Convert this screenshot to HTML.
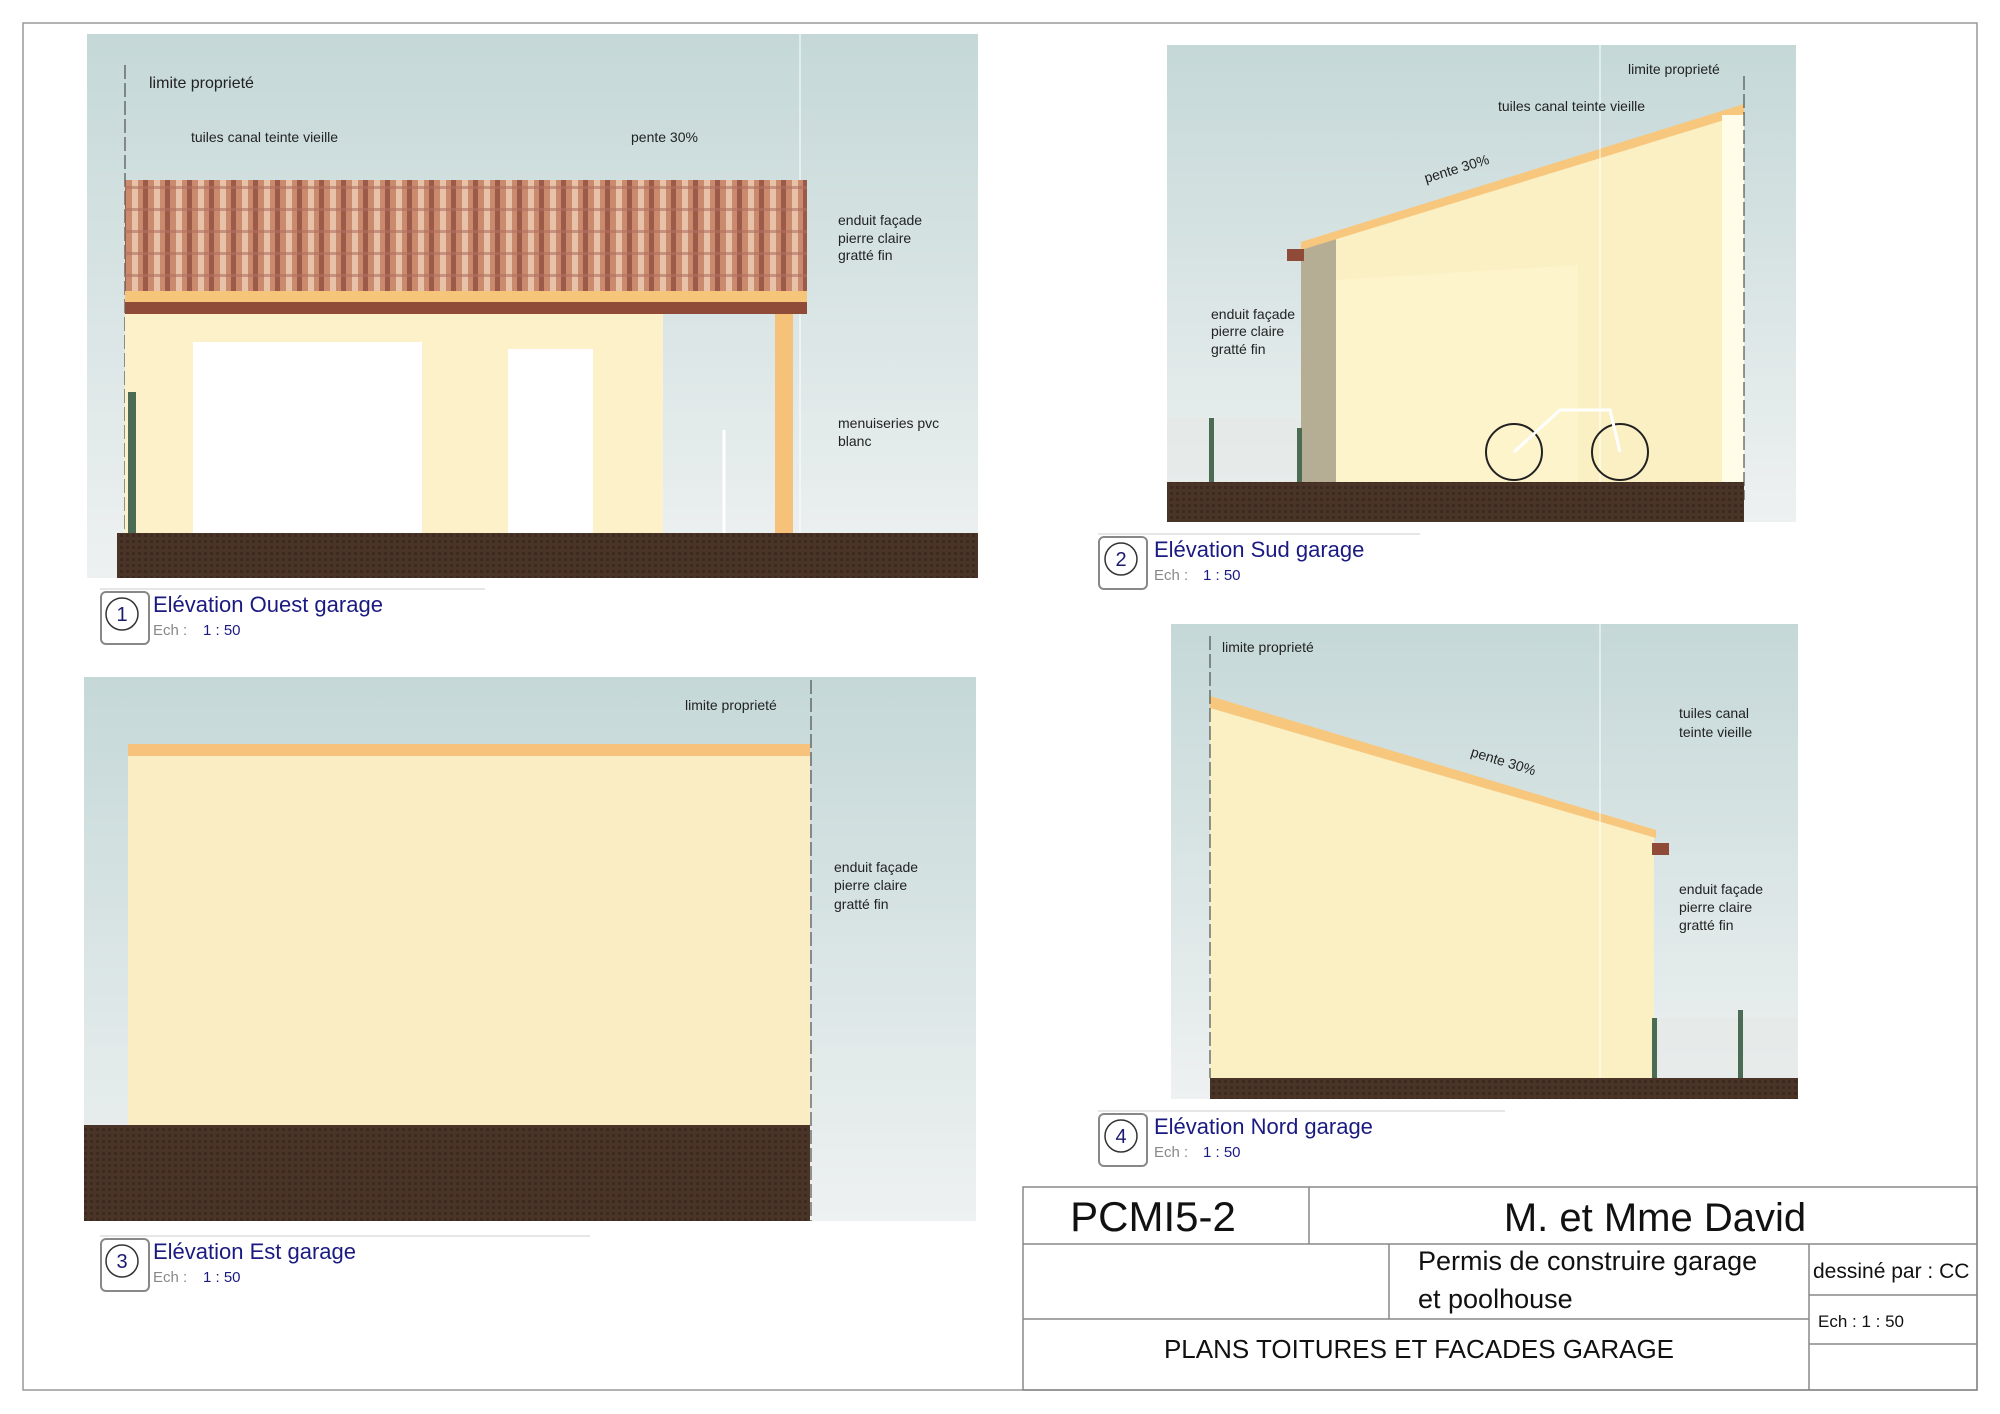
<!DOCTYPE html>
<html><head><meta charset="utf-8"><style>
html,body{margin:0;padding:0;background:#fff}
svg{display:block}
text{font-family:"Liberation Sans",sans-serif}
</style></head><body>
<svg width="2000" height="1414" viewBox="0 0 2000 1414" xmlns="http://www.w3.org/2000/svg">
<defs>
<linearGradient id="sky" x1="0" y1="0" x2="0" y2="1">
<stop offset="0" stop-color="#c5d8d8"/><stop offset="1" stop-color="#eef1f1"/></linearGradient>
<pattern id="tile" width="22" height="22" patternUnits="userSpaceOnUse">
<rect width="22" height="22" fill="#c98a6e"/>
<rect x="0" width="6" height="22" fill="#e8c2a8"/>
<rect x="11" width="5" height="22" fill="#9c5a48"/>
<rect y="10" width="22" height="3" fill="#b07060" opacity=".6"/>
</pattern>
<pattern id="soil" width="6" height="6" patternUnits="userSpaceOnUse">
<rect width="6" height="6" fill="#4a3428"/><rect width="3" height="3" fill="#3c2a20"/></pattern>
</defs>
<rect x="23" y="23" width="1954" height="1367" fill="none" stroke="#999" stroke-width="1.5"/>

<!-- Panel 1 -->
<rect x="87" y="34" width="891" height="544" fill="url(#sky)"/>
<line x1="125" y1="65" x2="125" y2="533" stroke="#333" stroke-dasharray="14,4"/>
<line x1="800" y1="34" x2="800" y2="578" stroke="#fff" stroke-width="1"/>
<rect x="125" y="180" width="682" height="111" fill="url(#tile)"/>
<rect x="125" y="291" width="682" height="11" fill="#f5c57a"/>
<rect x="125" y="302" width="682" height="12" fill="#8f4a38"/>
<rect x="125" y="314" width="538" height="219" fill="#fcf1c8"/>
<rect x="193" y="342" width="229" height="191" fill="#fff"/>
<rect x="508" y="349" width="85" height="184" fill="#fff"/>
<rect x="775" y="314" width="18" height="219" fill="#f6c27a"/>
<rect x="128" y="392" width="8" height="141" fill="#4b6b55"/>
<rect x="117" y="533" width="861" height="45" fill="url(#soil)"/>
<line x1="724" y1="430" x2="724" y2="533" stroke="#fff" stroke-width="3"/>
<text x="149" y="88" font-size="16" fill="#222">limite proprieté</text>
<text x="191" y="142" font-size="14" fill="#222">tuiles canal teinte vieille</text>
<text x="631" y="142" font-size="14" fill="#222">pente 30%</text>
<text x="838" y="225" font-size="14" fill="#222">enduit façade</text>
<text x="838" y="243" font-size="14" fill="#222">pierre claire</text>
<text x="838" y="260" font-size="14" fill="#222">gratté fin</text>
<text x="838" y="428" font-size="14" fill="#222">menuiseries pvc</text>
<text x="838" y="446" font-size="14" fill="#222">blanc</text>

<!-- Panel 2 -->
<rect x="1167" y="45" width="629" height="477" fill="url(#sky)"/>
<polygon points="1301,242 1744,106 1744,482 1301,482" fill="#fbf0c4"/>
<polygon points="1301,242 1336,232 1336,482 1301,482" fill="#b5ae94"/>
<polygon points="1336,280 1578,265 1578,482 1336,482" fill="#fff8d4" opacity=".5"/>
<polygon points="1301,242 1744,104 1744,114 1301,250" fill="#f7c77e"/>
<rect x="1287" y="249" width="17" height="12" fill="#8f4a38"/>
<rect x="1722" y="115" width="22" height="367" fill="#fffce8"/>
<line x1="1744" y1="76" x2="1744" y2="500" stroke="#333" stroke-dasharray="14,4"/>
<line x1="1600" y1="45" x2="1600" y2="522" stroke="#fff"/>
<rect x="1167" y="418" width="134" height="64" fill="#e4e8e6" opacity=".6"/>
<rect x="1209" y="418" width="5" height="64" fill="#4b6b55"/>
<rect x="1297" y="428" width="5" height="54" fill="#4b6b55"/>
<circle cx="1514" cy="452" r="28" fill="none" stroke="#222" stroke-width="2"/>
<circle cx="1620" cy="452" r="28" fill="none" stroke="#222" stroke-width="2"/>
<polyline points="1514,452 1560,410 1610,410 1620,452" fill="none" stroke="#fff" stroke-width="3"/>
<rect x="1167" y="482" width="577" height="40" fill="url(#soil)"/>
<text x="1628" y="74" font-size="14" fill="#222">limite proprieté</text>
<text x="1498" y="111" font-size="14" fill="#222">tuiles canal teinte vieille</text>
<text x="1426" y="183" font-size="14" fill="#222" transform="rotate(-17 1426 183)">pente 30%</text>
<text x="1211" y="319" font-size="14" fill="#222">enduit façade</text>
<text x="1211" y="336" font-size="14" fill="#222">pierre claire</text>
<text x="1211" y="354" font-size="14" fill="#222">gratté fin</text>

<!-- Panel 3 -->
<rect x="84" y="677" width="892" height="544" fill="url(#sky)"/>
<rect x="128" y="744" width="682" height="381" fill="#fbedc3"/>
<rect x="128" y="744" width="682" height="12" fill="#f7c27b"/>
<rect x="84" y="1125" width="726" height="96" fill="url(#soil)"/>
<line x1="811" y1="680" x2="811" y2="1221" stroke="#333" stroke-dasharray="14,4"/>
<text x="685" y="710" font-size="14" fill="#222">limite proprieté</text>
<text x="834" y="872" font-size="14" fill="#222">enduit façade</text>
<text x="834" y="890" font-size="14" fill="#222">pierre claire</text>
<text x="834" y="909" font-size="14" fill="#222">gratté fin</text>

<!-- Panel 4 -->
<rect x="1171" y="624" width="627" height="475" fill="url(#sky)"/>
<polygon points="1210,696 1654,832 1654,1078 1210,1078" fill="#fbf0c4"/>
<polygon points="1210,696 1656,830 1656,838 1210,708" fill="#f7c77e"/>
<rect x="1652" y="843" width="17" height="12" fill="#8f4a38"/>
<line x1="1210" y1="636" x2="1210" y2="1078" stroke="#333" stroke-dasharray="14,4"/>
<line x1="1600" y1="624" x2="1600" y2="1099" stroke="#fff"/>
<rect x="1654" y="1018" width="144" height="60" fill="#e4e8e6" opacity=".6"/>
<rect x="1652" y="1018" width="5" height="60" fill="#4b6b55"/>
<rect x="1738" y="1010" width="5" height="68" fill="#4b6b55"/>
<rect x="1210" y="1078" width="588" height="21" fill="url(#soil)"/>
<text x="1222" y="652" font-size="14" fill="#222">limite proprieté</text>
<text x="1470" y="756" font-size="14" fill="#222" transform="rotate(17 1470 756)">pente 30%</text>
<text x="1679" y="718" font-size="14" fill="#222">tuiles canal</text>
<text x="1679" y="737" font-size="14" fill="#222">teinte vieille</text>
<text x="1679" y="894" font-size="14" fill="#222">enduit façade</text>
<text x="1679" y="912" font-size="14" fill="#222">pierre claire</text>
<text x="1679" y="930" font-size="14" fill="#222">gratté fin</text>

<!-- Labels -->
<g>
<line x1="100" y1="589" x2="485" y2="589" stroke="#ccc"/>
<rect x="101" y="592" width="48" height="52" rx="5" fill="#fff" stroke="#888" stroke-width="2"/>
<circle cx="122" cy="614" r="16" fill="#fff" stroke="#333" stroke-width="1.5"/>
<text x="122" y="621" font-size="20" text-anchor="middle" fill="#1a1a6e">1</text>
<text x="153" y="612" font-size="22" fill="#1a1a80">Elévation Ouest garage</text>
<text x="153" y="635" font-size="15" fill="#888">Ech :</text><text x="203" y="635" font-size="15" fill="#1a1a80">1 : 50</text>
</g>
<g>
<line x1="1098" y1="534" x2="1420" y2="534" stroke="#ccc"/>
<rect x="1099" y="537" width="48" height="52" rx="5" fill="#fff" stroke="#888" stroke-width="2"/>
<circle cx="1121" cy="559" r="16" fill="#fff" stroke="#333" stroke-width="1.5"/>
<text x="1121" y="566" font-size="20" text-anchor="middle" fill="#1a1a6e">2</text>
<text x="1154" y="557" font-size="22" fill="#1a1a80">Elévation Sud garage</text>
<text x="1154" y="580" font-size="15" fill="#888">Ech :</text><text x="1203" y="580" font-size="15" fill="#1a1a80">1 : 50</text>
</g>
<g>
<line x1="100" y1="1236" x2="590" y2="1236" stroke="#ccc"/>
<rect x="101" y="1239" width="48" height="52" rx="5" fill="#fff" stroke="#888" stroke-width="2"/>
<circle cx="122" cy="1261" r="16" fill="#fff" stroke="#333" stroke-width="1.5"/>
<text x="122" y="1268" font-size="20" text-anchor="middle" fill="#1a1a6e">3</text>
<text x="153" y="1259" font-size="22" fill="#1a1a80">Elévation Est garage</text>
<text x="153" y="1282" font-size="15" fill="#888">Ech :</text><text x="203" y="1282" font-size="15" fill="#1a1a80">1 : 50</text>
</g>
<g>
<line x1="1098" y1="1111" x2="1505" y2="1111" stroke="#ccc"/>
<rect x="1099" y="1114" width="48" height="52" rx="5" fill="#fff" stroke="#888" stroke-width="2"/>
<circle cx="1121" cy="1136" r="16" fill="#fff" stroke="#333" stroke-width="1.5"/>
<text x="1121" y="1143" font-size="20" text-anchor="middle" fill="#1a1a6e">4</text>
<text x="1154" y="1134" font-size="22" fill="#1a1a80">Elévation Nord garage</text>
<text x="1154" y="1157" font-size="15" fill="#888">Ech :</text><text x="1203" y="1157" font-size="15" fill="#1a1a80">1 : 50</text>
</g>

<!-- Title block -->
<g stroke="#888" stroke-width="1.5" fill="none">
<rect x="1023" y="1187" width="954" height="203"/>
<line x1="1023" y1="1244" x2="1977" y2="1244"/>
<line x1="1023" y1="1319" x2="1809" y2="1319"/>
<line x1="1309" y1="1187" x2="1309" y2="1244"/>
<line x1="1389" y1="1244" x2="1389" y2="1319"/>
<line x1="1809" y1="1244" x2="1809" y2="1390"/>
<line x1="1809" y1="1295" x2="1977" y2="1295"/>
<line x1="1809" y1="1344" x2="1977" y2="1344"/>
</g>
<text x="1153" y="1231" font-size="42" text-anchor="middle" fill="#111">PCMI5-2</text>
<text x="1655" y="1231" font-size="40" text-anchor="middle" fill="#111">M. et Mme David</text>
<text x="1418" y="1270" font-size="27" fill="#111">Permis de construire garage</text>
<text x="1418" y="1308" font-size="27" fill="#111">et poolhouse</text>
<text x="1813" y="1278" font-size="21" fill="#111">dessiné par : CC</text>
<text x="1818" y="1327" font-size="17" fill="#111">Ech :     1 : 50</text>
<text x="1419" y="1358" font-size="26" text-anchor="middle" fill="#111">PLANS TOITURES ET FACADES GARAGE</text>
</svg>
</body></html>
